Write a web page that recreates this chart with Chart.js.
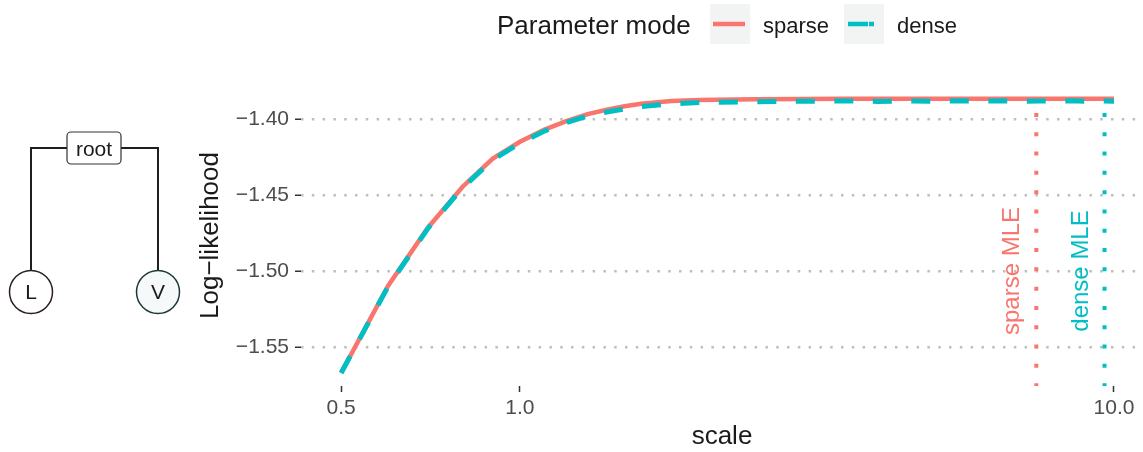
<!DOCTYPE html>
<html>
<head>
<meta charset="utf-8">
<title>Log-likelihood by scale</title>
<script src="https://cdn.jsdelivr.net/npm/chart.js@4.4.1/dist/chart.umd.min.js"></script>
<style>
  body { margin: 0; background: #fff; }
  #wrap { position: relative; width: 1143px; height: 452px; }
  #chart { position: absolute; left: 0; top: 0; }
  #overlay { position: absolute; left: 0; top: 0; pointer-events: none; font-family: 'Liberation Sans', Arial, sans-serif; }
</style>
</head>
<body>
<div id="wrap">
  <canvas id="chart" width="1143" height="452"></canvas>
  <svg id="overlay" width="1143" height="452">
    <!-- tree: root with two leaves -->
    <g stroke="#1f1f1f" stroke-width="2" fill="none">
      <polyline points="67,148 31,148 31,270"/>
      <polyline points="121,148 158,148 158,270"/>
    </g>
    <rect x="67" y="132" width="54" height="32" rx="4" fill="#fff" stroke="#333" stroke-width="1.2"/>
    <text x="94" y="155.5" font-size="21" text-anchor="middle" fill="#1a1a1a">root</text>
    <circle cx="31" cy="292" r="21.5" fill="#fff" stroke="#2b1f1f" stroke-width="1.5"/>
    <text x="31" y="299" font-size="21" text-anchor="middle" fill="#1a1a1a">L</text>
    <circle cx="158" cy="292" r="21.5" fill="#f5f9f9" stroke="#1e3838" stroke-width="1.5"/>
    <text x="158" y="299" font-size="21" text-anchor="middle" fill="#1a1a1a">V</text>

    <!-- legend -->
    <text x="497" y="34" font-size="26" fill="#1a1a1a">Parameter mode</text>
    <rect x="710" y="4" width="40" height="40" fill="#f2f3f3"/>
    <line x1="713" y1="24" x2="745" y2="24" stroke="#F8766D" stroke-width="4.5"/>
    <text x="763" y="33" font-size="22" fill="#1a1a1a">sparse</text>
    <rect x="844" y="4" width="40" height="40" fill="#f2f3f3"/>
    <line x1="848" y1="24" x2="874" y2="24" stroke="#00BFC4" stroke-width="4.5" stroke-dasharray="20 1"/>
    <text x="897" y="33" font-size="22" fill="#1a1a1a">dense</text>
  </svg>
</div>
<script>
// log-likelihood profile over the scale parameter
const scaleValues = [0.5, 0.6, 0.7, 0.8, 0.9, 1.0, 1.1, 1.2, 1.3, 1.4, 1.5, 1.6, 1.8, 2.0, 2.5,
                     3.0, 3.5, 4.0, 4.5, 5.0, 5.5, 6.0, 6.5, 7.0, 7.5, 8.0, 8.5, 9.0, 9.5, 10.0];
const sparseLL = [-1.5671, -1.5097, -1.4715, -1.4447, -1.4260, -1.4150, -1.4070, -1.4012, -1.3968, -1.3939,
                  -1.3916, -1.3899, -1.3881, -1.3875, -1.3870, -1.3868, -1.3867, -1.3867, -1.3867, -1.3867,
                  -1.3867, -1.3867, -1.3867, -1.3867, -1.3867, -1.3867, -1.3867, -1.3867, -1.3867, -1.3867];
const denseLL = [-1.5671, -1.5102, -1.4720, -1.4454, -1.4268, -1.4159, -1.4079, -1.4022, -1.3981, -1.3954,
                 -1.3934, -1.3918, -1.3900, -1.3891, -1.3886, -1.3883, -1.3881, -1.3884, -1.3881, -1.3884,
                 -1.3880, -1.3882, -1.3880, -1.3883, -1.3881, -1.3883, -1.3880, -1.3883, -1.3881, -1.3883];

// maximum likelihood estimates of scale per mode
const modes = ['sparse', 'dense'];
const modeColors = ['#F8766D', '#00BFC4'];
const mleScale = [7.40, 9.64];

const xTicks = [0.5, 1.0, 10.0];
const yTicks = [-1.55, -1.50, -1.45, -1.40];
const xLimits = [0.428, 11.19];
const yLimits = [-1.5757, -1.3776];

const FONT = "'Liberation Sans', Arial, sans-serif";
Chart.defaults.font.family = FONT;

const toPoints = vals => scaleValues.map((s, i) => ({ x: s, y: vals[i] }));
const minus = v => (v < 0 ? '\u2212' : '') + Math.abs(v).toFixed(2);

const vlineSets = modes.map((m, i) => ({
  label: m + ' MLE',
  data: [{ x: mleScale[i], y: -1.396 }, { x: mleScale[i], y: yLimits[0] }],
  borderColor: modeColors[i],
  borderWidth: 4,
  borderDash: [4, 15.3],
  pointRadius: 0,
  order: 2
}));

// rotated "<mode> MLE" text next to each vertical line
const mleLabels = {
  id: 'mleLabels',
  afterDatasetsDraw(chart) {
    const { ctx, scales: { x, y } } = chart;
    ctx.save();
    ctx.font = '24px ' + FONT;
    ctx.textAlign = 'center';
    ctx.textBaseline = 'alphabetic';
    modes.forEach((m, i) => {
      ctx.save();
      ctx.translate(x.getPixelForValue(mleScale[i]) - 17, y.getPixelForValue(-1.50));
      ctx.rotate(-Math.PI / 2);
      ctx.fillStyle = modeColors[i];
      ctx.fillText(m + ' MLE', 0, 0);
      ctx.restore();
    });
    ctx.restore();
  }
};

new Chart(document.getElementById('chart'), {
  type: 'line',
  data: {
    datasets: [
      ...vlineSets,
      {
        label: 'sparse',
        data: toPoints(sparseLL),
        borderColor: modeColors[0],
        borderWidth: 4.5,
        pointRadius: 0,
        tension: 0,
        order: 1
      },
      {
        // dashed line sits on top of the solid one
        label: 'dense',
        data: toPoints(denseLL),
        borderColor: modeColors[1],
        borderWidth: 5,
        borderDash: [19, 19.5],
        pointRadius: 0,
        tension: 0,
        order: 0
      }
    ]
  },
  options: {
    responsive: false,
    animation: false,
    layout: { padding: { left: 191, top: 85, right: 0, bottom: 0 } },
    plugins: { legend: { display: false }, tooltip: { enabled: false } },
    scales: {
      x: {
        type: 'logarithmic',
        bounds: 'data',
        min: xLimits[0],
        max: xLimits[1],
        afterBuildTicks: s => { s.ticks = xTicks.map(v => ({ value: v })); },
        afterFit: s => { s.height = 66; },
        ticks: {
          autoSkip: false,
          maxRotation: 0,
          padding: 4,
          color: '#4d4d4d',
          font: { size: 21 },
          callback: v => Number(v).toFixed(1)
        },
        grid: {
          drawOnChartArea: false,
          drawTicks: true,
          tickLength: 6,
          tickWidth: 1.5,
          tickColor: '#333',
          tickBorderDash: []
        },
        border: { display: false },
        title: {
          display: true,
          text: 'scale',
          color: '#1a1a1a',
          font: { size: 26 },
          padding: { top: 0, bottom: 0 }
        }
      },
      y: {
        type: 'linear',
        bounds: 'data',
        min: yLimits[0],
        max: yLimits[1],
        afterBuildTicks: s => { s.ticks = yTicks.map(v => ({ value: v })); },
        afterFit: s => { s.width = 110; },
        ticks: {
          padding: 6,
          color: '#4d4d4d',
          font: { size: 21 },
          callback: v => minus(v)
        },
        grid: {
          color: '#bebebe',
          lineWidth: 2.5,
          borderDash: [2.5, 8.3],
          drawTicks: true,
          tickLength: 6,
          tickWidth: 1.5,
          tickColor: '#333',
          tickBorderDash: []
        },
        border: { display: false, dash: [2.5, 8.3] },
        title: {
          display: true,
          text: 'Log\u2212likelihood',
          color: '#1a1a1a',
          font: { size: 26 },
          padding: { top: 4, bottom: 0 }
        }
      }
    }
  },
  plugins: [mleLabels]
});
</script>
</body>
</html>
